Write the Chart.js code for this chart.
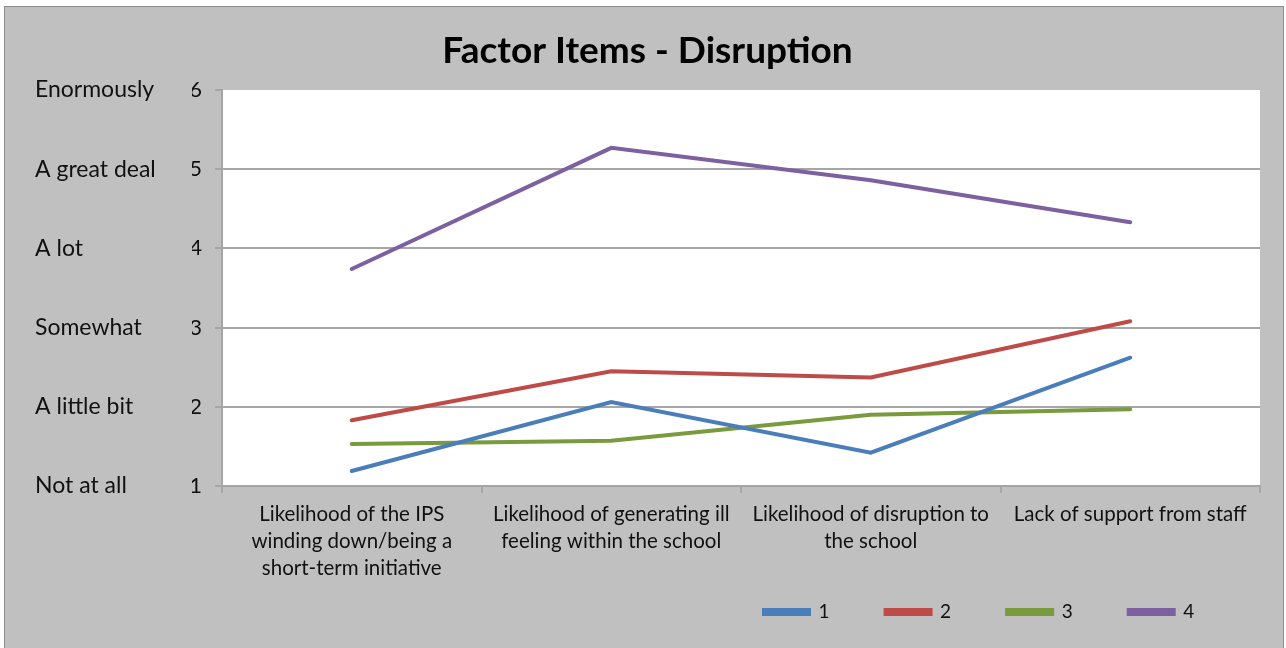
<!DOCTYPE html>
<html>
<head>
<meta charset="utf-8">
<script src="https://cdn.jsdelivr.net/npm/chart.js@4.4.0/dist/chart.umd.min.js"></script>
<style>
  html, body { margin: 0; padding: 0; background: #fff; }
  #wrap { width: 1286px; height: 648px; }
</style>
</head>
<body>
<div id="wrap"><canvas id="FactorChart" width="1286" height="648"></canvas></div>
<script>
// data
const categories = [
    ['Likelihood of the IPS', 'winding down/being a', 'short-term initiative'],
    ['Likelihood of generating ill', 'feeling within the school'],
    ['Likelihood of disruption to', 'the school'],
    ['Lack of support from staff']
];
const seriesNames = ['1', '2', '3', '4'];
const series1 = [1.19, 2.06, 1.42, 2.62];
const series2 = [1.83, 2.45, 2.37, 3.08];
const series3 = [1.53, 1.57, 1.90, 1.97];
const series4 = [3.74, 5.27, 4.86, 4.33];
const levelLabels = ['Not at all', 'A little bit', 'Somewhat', 'A lot', 'A great deal', 'Enormously'];

const colors = ['#4a7ebb', '#be4b48', '#7a9a3e', '#7d60a0'];
const gridGray = '#a6a6a6';
const font = 'Lato, "Open Sans", sans-serif';
const legendFontSize = 19;

// gray frame + white plot area, like the excel export
const framePlugin = {
    id: 'frame',
    beforeDraw(chart) {
        const c = chart.ctx;
        const a = chart.chartArea;
        c.save();
        c.fillStyle = '#ffffff';
        c.fillRect(0, 0, chart.width, chart.height);
        c.fillStyle = '#c0c0c0';
        c.fillRect(4, 6, chart.width - 6, chart.height - 6);
        c.strokeStyle = '#8c8c8c';
        c.lineWidth = 1;
        c.strokeRect(4.5, 6.5, chart.width - 7, chart.height + 4);
        c.fillStyle = '#ffffff';
        c.fillRect(a.left, a.top, a.right - a.left, a.bottom - a.top);
        c.restore();
    }
};

// pad legend text with spaces so the items are spread out like excel does
// (last one gets a bit more so the row ends short of the plot's right edge)
function padLabel(text, target) {
    const m = document.createElement('canvas').getContext('2d');
    m.font = legendFontSize + 'px ' + font;
    let t = text;
    while (m.measureText(t + ' ').width <= target) t += ' ';
    return t;
}

const allSeries = [series1, series2, series3, series4];

const ctx = document.getElementById('FactorChart').getContext('2d');
const myChart = new Chart(ctx, {
    type: 'line',
    data: {
        labels: categories,
        datasets: allSeries.map(function (vals, i) {
            return {
                label: seriesNames[i],
                data: vals,
                borderColor: colors[i],
                backgroundColor: colors[i],
                borderWidth: 4,
                pointRadius: 0,
                tension: 0,
                borderCapStyle: 'round'
            };
        })
    },
    options: {
        responsive: false,
        animation: false,
        layout: {
            autoPadding: false,
            padding: { left: 35, right: 26, top: 0, bottom: 16.5 }
        },
        scales: {
            x: {
                offset: true,
                grid: { display: true, offset: true, drawOnChartArea: false, color: gridGray, tickLength: 7, lineWidth: 2 },
                border: { color: gridGray, width: 2 },
                ticks: {
                    color: '#111',
                    font: { family: font, size: 20.5, lineHeight: 1.32 },
                    padding: 8,
                    maxRotation: 0,
                    autoSkip: false
                },
                afterFit(scale) { scale.height = 94.5; }
            },
            y: {
                min: 1,
                max: 6,
                weight: 0,
                ticks: {
                    stepSize: 1,
                    color: '#111',
                    font: { family: font, size: 22 },
                    padding: 13
                },
                grid: {
                    color: function (c) { return c.tick && c.tick.value === 6 ? 'rgba(0,0,0,0)' : gridGray; },
                    tickColor: gridGray,
                    tickLength: 7,
                    lineWidth: 2
                },
                border: { color: gridGray, width: 2 },
                afterFit(scale) { scale.width = 30; }
            },
            yLabels: {
                position: 'left',
                min: 1,
                max: 6,
                weight: 1,
                grid: { display: false },
                border: { display: false },
                ticks: {
                    stepSize: 1,
                    crossAlign: 'far',
                    color: '#111',
                    font: { family: font, size: 23 },
                    callback: function (v) { return levelLabels[v - 1]; }
                },
                afterFit(scale) { scale.width = 157; }
            }
        },
        plugins: {
            title: {
                display: true,
                text: 'Factor Items - Disruption',
                color: '#000',
                font: { family: font, size: 37, weight: 'bold' },
                padding: { top: 29, bottom: 16.6 }
            },
            legend: {
                position: 'bottom',
                align: 'end',
                labels: {
                    boxWidth: 45,
                    boxHeight: 4,
                    padding: 22,
                    color: '#111',
                    font: { family: font, size: legendFontSize },
                    generateLabels: function (chart) {
                        const items = Chart.defaults.plugins.legend.labels.generateLabels(chart);
                        items.forEach(function (it, i) {
                            it.text = padLabel(it.text, i === items.length - 1 ? 56 : 47);
                        });
                        return items;
                    }
                }
            },
            tooltip: { enabled: false }
        }
    },
    plugins: [framePlugin]
});
</script>
</body>
</html>
